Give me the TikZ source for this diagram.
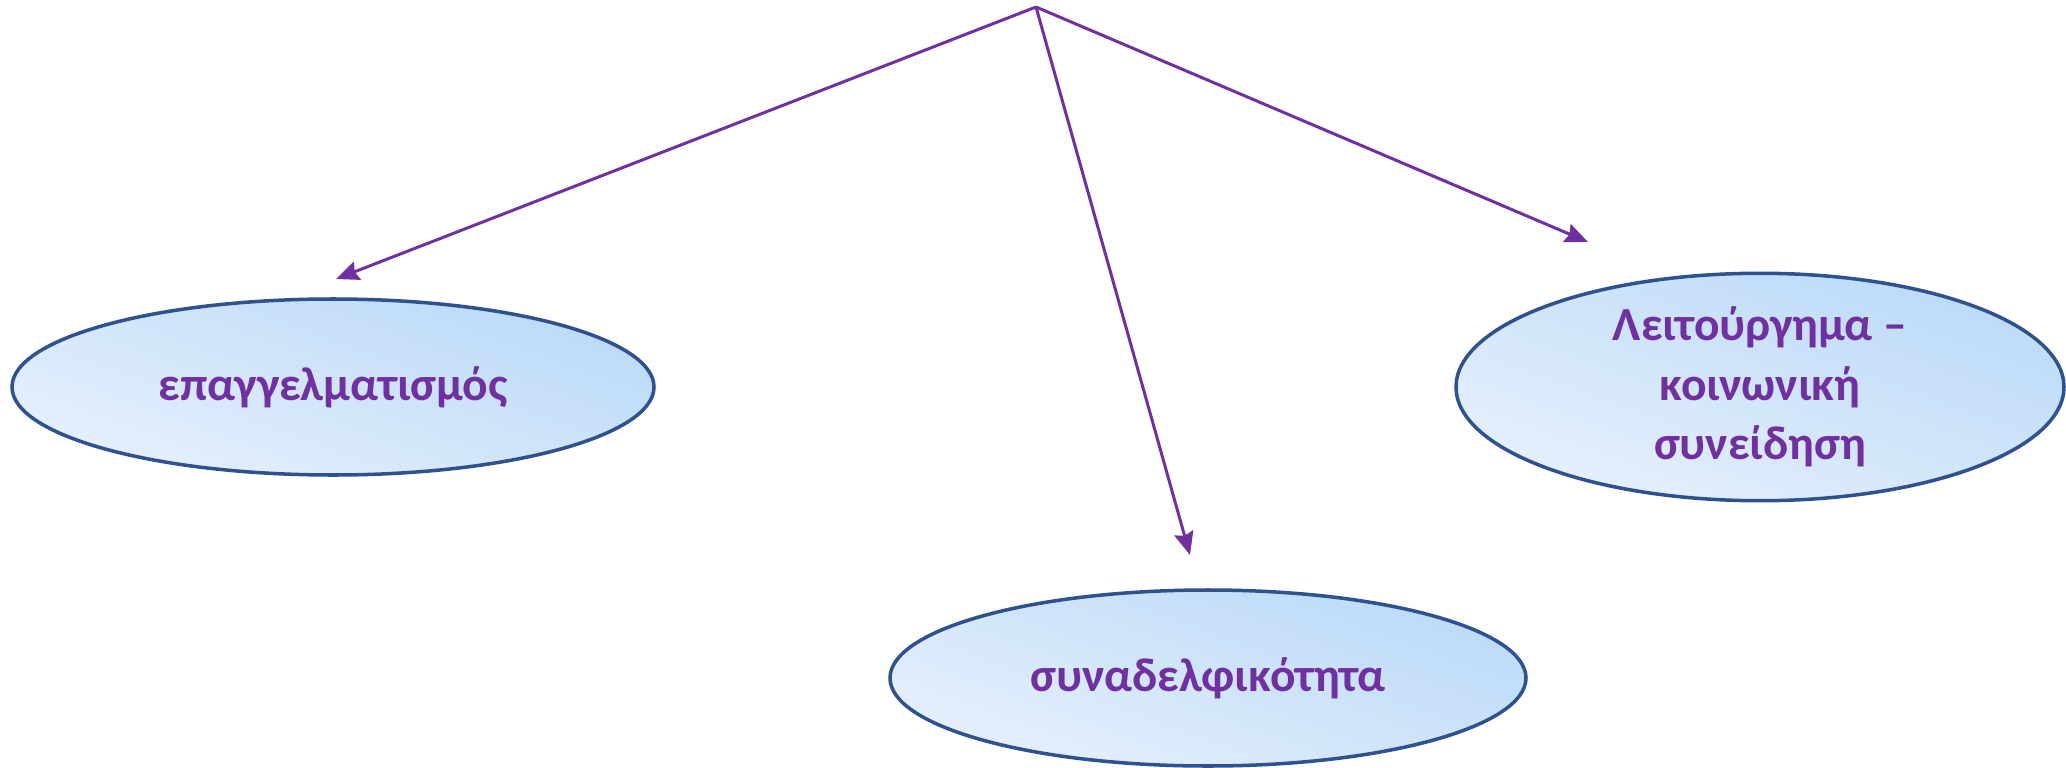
\documentclass[tikz,border=0pt]{standalone}
\usepackage{fontspec}
\setmainfont{Carlito}
\usetikzlibrary{arrows.meta,positioning,calc,shapes.geometric}
\definecolor{txtpurple}{HTML}{7030A0}
\definecolor{rimblue}{HTML}{2F528F}
\definecolor{fillpale}{HTML}{E6F0FC}
\definecolor{filldeep}{HTML}{BBDAF8}
\tikzset{blob/.style={ellipse, draw=rimblue, line width=1pt, inner sep=0pt, top color=fillpale, bottom color=filldeep, shading angle=160, text=txtpurple, font=\fontsize{13.5}{17}\selectfont\bfseries, align=center}}
\tikzset{arr/.style={draw=txtpurple, line width=0.85pt, -{Stealth[length=6.5pt,width=5.5pt,inset=0.8pt]}}}

\begin{document}
\begin{tikzpicture}
			\useasboundingbox (0,0) rectangle (20.66,7.67);
			\coordinate (top) at (10.36,7.60);
			\node[blob, minimum width=6.42cm, minimum height=1.76cm] (prof) at (3.33,3.80){επαγγελματισμός};
			\node[blob, minimum width=6.36cm, minimum height=1.76cm] (coll) at (12.08,0.89){συναδελφικότητα};
			\node[blob, minimum width=6.08cm, minimum height=2.22cm] (duty) at (17.60,3.80){Λειτούργημα –\\κοινωνική\\συνείδηση};
			
			\coordinate (profTip) at (3.36,4.88);
			\coordinate (collTip) at (11.90,2.12);
			\coordinate (dutyTip) at (15.88,5.25);
			
			\draw[arr] (top) -- (profTip);
			\draw[arr] (top) -- (collTip);
			\draw[arr] (top) -- (dutyTip);
		\end{tikzpicture}
\end{document}
